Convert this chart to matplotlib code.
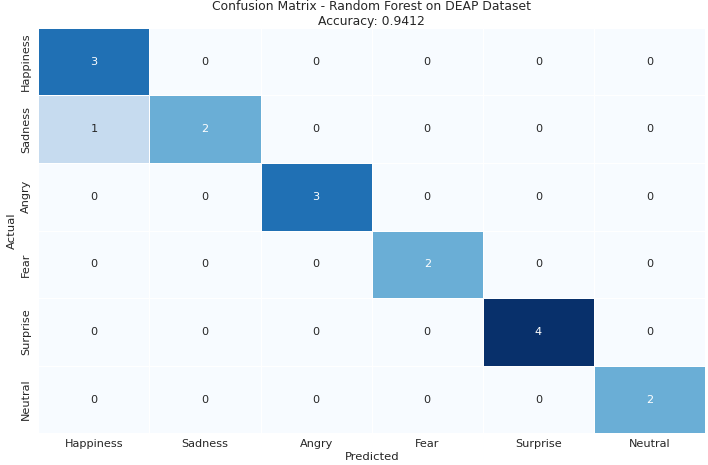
import numpy as np
import matplotlib
matplotlib.use("Agg")
import matplotlib.pyplot as plt
import seaborn as sns

labels = ["Happiness", "Sadness", "Angry", "Fear", "Surprise", "Neutral"]
row_happiness = [3, 0, 0, 0, 0, 0]
row_sadness = [1, 2, 0, 0, 0, 0]
row_angry = [0, 0, 3, 0, 0, 0]
row_fear = [0, 0, 0, 2, 0, 0]
row_surprise = [0, 0, 0, 0, 4, 0]
row_neutral = [0, 0, 0, 0, 0, 2]
accuracy = 0.9412

cm = np.array([row_happiness, row_sadness, row_angry, row_fear, row_surprise, row_neutral])

sns.set_theme(style="white")
plt.rcParams['font.family'] = ['DejaVu Sans']

fig, ax = plt.subplots(figsize=(10, 465 / 70.8), dpi=70.8)
sns.heatmap(cm, annot=True, fmt="d", cmap="Blues", cbar=False,
            xticklabels=labels, yticklabels=labels, linewidths=1, linecolor="white",
            annot_kws={"fontsize": 11.5}, ax=ax)
ax.set_title(f"Confusion Matrix - Random Forest on DEAP Dataset\nAccuracy: {accuracy:.4f}",
             fontsize=12.6, pad=3, linespacing=1.15)
ax.set_xlabel("Predicted", fontsize=11.8, labelpad=3)
ax.set_ylabel("Actual", fontsize=11.8, labelpad=5)
ax.tick_params(axis="x", labelsize=11.5, length=0, pad=6)
ax.tick_params(axis="y", labelsize=11.5, length=0, pad=7)
plt.setp(ax.get_yticklabels(), rotation=90, va="center")
fig.subplots_adjust(left=0.054, right=0.996, top=0.94, bottom=0.068)
fig.savefig("out.png", dpi=70.8)
